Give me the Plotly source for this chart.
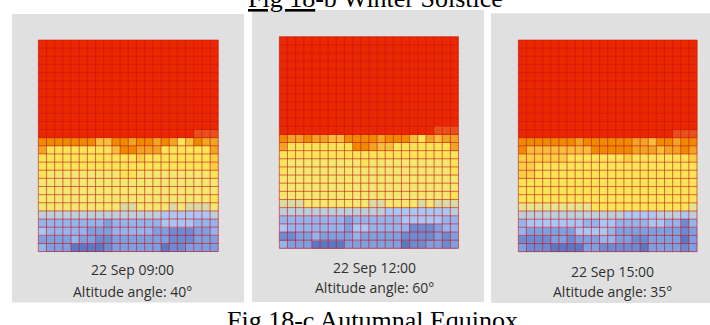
import plotly.graph_objects as go

W, H = 710, 325

# ---------------- data ----------------
LEVEL_CODES = list("RropqyYlhgcabmdD")
LEVEL_COLORS = ["#EA2800", "#E9511A", "#EC8A00", "#F0A424", "#F5BE3C", "#F9CF45",
                "#FAE558", "#F2E872", "#E4E48E", "#D6DCA6", "#BCCFDC", "#AAC6F4",
                "#95B3EC", "#7FA0E0", "#6C8BD2", "#5A78C4"]

RED_ROW = "RRRRRRRRRRRRRRRRRRRRRR"

PANEL1_ROWS = [RED_ROW] * 11 + [
    "RRRRRRRRRRRRRRRRRRRrrr",
    "oooooooqqoopoopopYqopp",
    "pYYYYYYYYqoopppYYYYYYp",
    "YYYYYYYYYYYYyYYYYYYYYy",
    "YYYYYYYYYYYYYYYYYYYYYy",
    "YlllllllllYYlllllllllY",
    "llllllllllllllllllllll",
    "llllllllllllllllllllll",
    "lllllllllllllllllllllY",
    "llllllllllggllllglgggl",
    "cccccccccccccccaaaaaac",
    "bbbbbbbbmbbbbbbaaaabbb",
    "abbbbbmmmbbbbbmmdddmmb",
    "mmmmbmmddmmmmmmmdddmmm",
    "bmmmDDDDdmmmmmmDddmmmm",
]

PANEL2_ROWS = [RED_ROW] * 11 + [
    "RRRRRRRRRRRRRRRRRRRrrr",
    "oppoppqqoooopoooqYpqpp",
    "pYYYYYYYYoopqqYYYYYYYp",
    "YYYYYYYYYYYYYYYYYYYYYY",
    "YlllllllllYllllllllllY",
    "YllllllllllllllllllllY",
    "llllllllllllllllllllll",
    "llllllllllllllllllllll",
    "lllllllllllllllllllllY",
    "gggllllllllggllllglggg",
    "cccccccccccccaaaaaaaac",
    "bbbbbbbbmbbbbbbaaaaabb",
    "abbbbbbbmaabbbbbdddmbb",
    "ddmmbmmmmbmmmmmddddmdm",
    "bmmmDDDDmmmmmmmDddmmdm",
]

PANEL3_ROWS = [RED_ROW] * 11 + [
    "RRRRRRRRRRRRRRRRRRRrrr",
    "ooooooopooooooppqoopoo",
    "oqqqqqqqqooooopppqppop",
    "yyyyyyYYYYYYYyYYYYYYYy",
    "yyYYYYYYYYYYYYYYYYYYYY",
    "yyYYYYYYYYYYYYYYYYYYYY",
    "YYYYYYYYYYYYYYYYYYYYYY",
    "YYYYYYYYYYYYYYYYYYYYYY",
    "YYYYYYYYYYYYYYYYYYYYYY",
    "hhhhhhhhhYYYYYYYYYYYYh",
    "cccccccccccccaaaacccac",
    "baaaaaaabbaabbbbaabbdb",
    "bmmmmmmaaaabmmmmmmmmdm",
    "ddddmmdmmmbbmmddmmmmDm",
    "mdddDDDDmmdddddDmmmmdm",
]

PANELS = [PANEL1_ROWS, PANEL2_ROWS, PANEL3_ROWS]
DATES = ["22 Sep 09:00", "22 Sep 12:00", "22 Sep 15:00"]
ALTITUDES = [40, 60, 35]
TOP_CAPTION = "<u>Fig 18</u>-b Winter Solstice"
BOTTOM_CAPTION = "Fig 18-c Autumnal Equinox"

# ---------------- layout (pixel boxes) ----------------
PANEL_BOXES = [(12, 14, 244, 302.5), (252, 10, 484, 302), (491, 13.3, 710, 303)]
GRID_BOXES = [(38.3, 40, 218.3, 251.6), (279.3, 36.7, 458.5, 248.3), (518.3, 40, 697, 251.7)]
TEXT_X = [132, 374, 612]
TEXT_Y1 = [269.6, 267.3, 271.3]
TEXT_Y2 = [291.3, 287.9, 291.9]

for rows in PANELS:
    assert all(len(r) == 22 for r in rows) and len(rows) == 26

n = len(LEVEL_CODES)
colorscale = []
for i, c in enumerate(LEVEL_COLORS):
    colorscale.append([i / n, c])
    colorscale.append([(i + 1) / n, c])

fig = go.Figure()
layout_axes = {}
for k, rows in enumerate(PANELS):
    z = [[LEVEL_CODES.index(ch) for ch in r] for r in rows]
    nr, nc = len(z), len(z[0])
    x0, y0, x1, y1 = GRID_BOXES[k]
    cw = (x1 - x0) / nc
    chh = (y1 - y0) / nr
    pad = 1.0
    xa = "x" if k == 0 else f"x{k + 1}"
    ya = "y" if k == 0 else f"y{k + 1}"
    fig.add_trace(go.Heatmap(z=z, colorscale=colorscale, zmin=-0.5, zmax=n - 0.5,
                             showscale=False, xaxis=xa, yaxis=ya, hoverinfo="skip"))
    lx, ly = [], []
    for i in range(nc + 1):
        lx += [i - 0.5, i - 0.5, None]
        ly += [-0.5, nr - 0.5, None]
    for j in range(nr + 1):
        lx += [-0.5, nc - 0.5, None]
        ly += [j - 0.5, j - 0.5, None]
    fig.add_trace(go.Scatter(x=lx, y=ly, mode="lines",
                             line=dict(color="rgba(200,20,20,0.6)", width=1),
                             xaxis=xa, yaxis=ya, hoverinfo="skip", showlegend=False))
    xname = "xaxis" if k == 0 else f"xaxis{k + 1}"
    yname = "yaxis" if k == 0 else f"yaxis{k + 1}"
    layout_axes[xname] = dict(domain=[(x0 - pad) / W, (x1 + pad) / W],
                              range=[-0.5 - pad / cw, nc - 0.5 + pad / cw],
                              visible=False, fixedrange=True, anchor=ya)
    layout_axes[yname] = dict(domain=[1 - (y1 + pad) / H, 1 - (y0 - pad) / H],
                              range=[nr - 0.5 + pad / chh, -0.5 - pad / chh],
                              visible=False, fixedrange=True, anchor=xa)

shapes = []
for (px0, py0, px1, py1) in PANEL_BOXES:
    shapes.append(dict(type="rect", xref="paper", yref="paper",
                       x0=px0 / W, x1=px1 / W, y0=1 - py1 / H, y1=1 - py0 / H,
                       fillcolor="#E0E0E0", line=dict(width=0), layer="below"))

annotations = []
small_font = dict(family="Open Sans", size=14, color="#303030")
for k in range(3):
    annotations.append(dict(text=DATES[k], x=TEXT_X[k] / W, y=1 - TEXT_Y1[k] / H,
                            xref="paper", yref="paper", showarrow=False,
                            xanchor="center", yanchor="middle", font=small_font))
    annotations.append(dict(text=f"Altitude angle: {ALTITUDES[k]}°", x=TEXT_X[k] / W,
                            y=1 - TEXT_Y2[k] / H, xref="paper", yref="paper",
                            showarrow=False, xanchor="center", yanchor="middle",
                            font=small_font))
cap_font = dict(family="Liberation Serif", size=26, color="#000000")
annotations.append(dict(text=TOP_CAPTION, x=375 / W, y=1 + 1.5 / H, xref="paper",
                        yref="paper", showarrow=False, xanchor="center",
                        yanchor="middle", font=cap_font))
annotations.append(dict(text=BOTTOM_CAPTION, x=372.5 / W, y=1 - 320.1 / H, xref="paper",
                        yref="paper", showarrow=False, xanchor="center",
                        yanchor="middle", font=cap_font))

fig.update_layout(width=W, height=H, margin=dict(l=0, r=0, t=0, b=0),
                  paper_bgcolor="white", plot_bgcolor="rgba(0,0,0,0)",
                  showlegend=False, shapes=shapes, annotations=annotations,
                  **layout_axes)

fig.write_html("out.html", config={"displayModeBar": False},
               post_script="document.body.style.margin='0';document.body.style.padding='0';")
